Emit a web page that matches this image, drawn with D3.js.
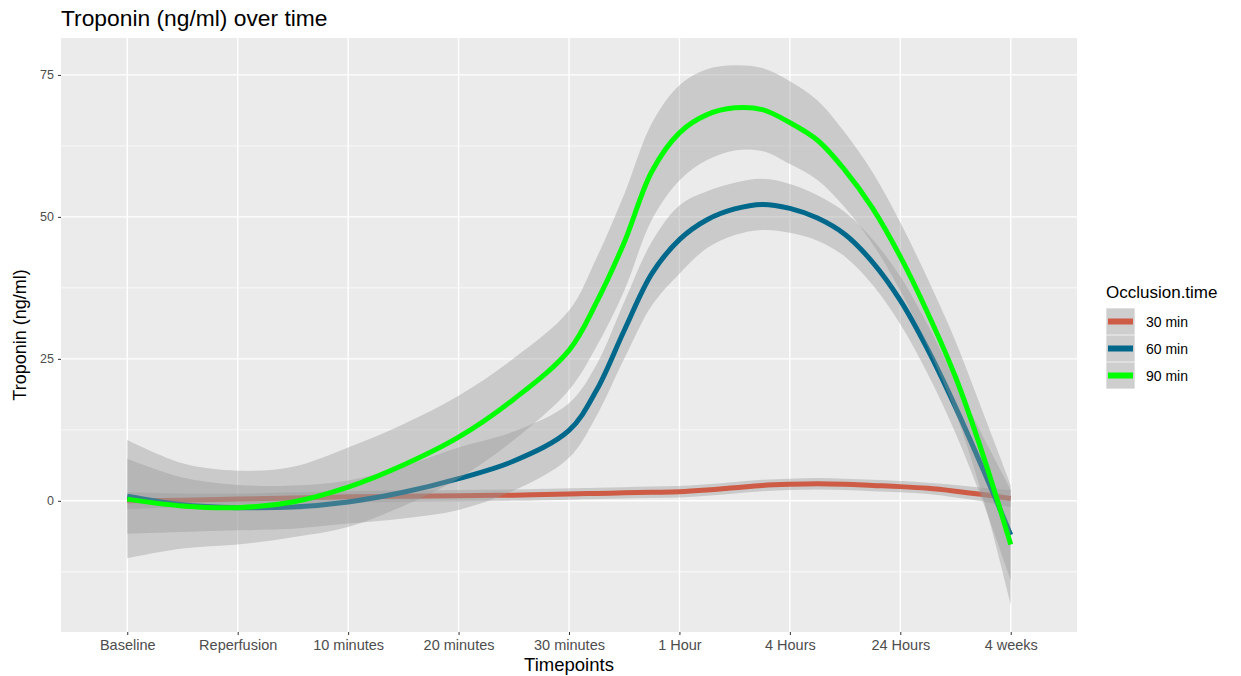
<!DOCTYPE html>
<html>
<head>
<meta charset="utf-8">
<script src="https://cdn.jsdelivr.net/npm/d3@7"></script>
<style>
  body { margin: 0; background: #fff; }
  svg { display: block; font-family: "Liberation Sans", Arial, sans-serif; }
</style>
</head>
<body>
<div id="chart"></div>
<script>
// x axis categories (discrete timepoints)
var categories = ['Baseline', 'Reperfusion', '10 minutes', '20 minutes', '30 minutes',
  '1 Hour', '4 Hours', '24 Hours', '4 weeks'];

// positions (category index, 1-based) where the smoothed curves were read
var pos = [1, 1.5, 2, 2.5, 3, 3.5, 4, 4.5, 5, 5.25, 5.5, 5.75, 6, 6.25, 6.5, 6.75, 7, 7.25, 7.5, 7.75, 8, 8.25, 8.5, 8.75, 9];

// smoothed fit
var fit30 = [0.0, 0.1, 0.3, 0.5, 0.7, 0.8, 0.9, 1.0, 1.2, 1.3, 1.4, 1.5, 1.6, 1.9, 2.3, 2.7, 2.9, 3.0, 2.9, 2.7, 2.5, 2.2, 1.7, 1.1, 0.4];
var fit60 = [0.8, -0.7, -1.2, -1.1, -0.2, 1.5, 3.9, 7.0, 12.4, 19.5, 30.0, 40.0, 46.0, 49.5, 51.4, 52.2, 51.5, 49.8, 46.9, 42.0, 35.3, 26.6, 16.5, 5.5, -6.0];
var fit90 = [0.3, -0.9, -1.2, -0.2, 2.4, 6.3, 11.2, 17.9, 26.5, 35.0, 45.5, 58.0, 64.8, 68.0, 69.2, 68.9, 66.6, 63.5, 58.2, 51.5, 43.0, 33.0, 21.8, 8.0, -7.7];

// half-width of the confidence band
var se30 = [1.5, 1.2, 1.0, 1.0, 1.0, 1.0, 1.0, 1.0, 1.0, 1.0, 1.0, 1.0, 1.0, 1.0, 1.0, 1.0, 1.0, 1.0, 1.0, 1.0, 1.0, 1.0, 1.1, 1.2, 1.5];
var se60 = [6.6, 4.8, 4.0, 3.8, 3.8, 4.6, 5.5, 5.2, 4.8, 4.5, 5.0, 5.6, 6.0, 5.0, 4.6, 4.5, 4.3, 4.0, 3.9, 4.0, 4.2, 4.3, 4.6, 5.8, 8.0];
var se90 = [10.4, 7.5, 6.5, 6.2, 7.0, 7.2, 7.3, 7.2, 7.0, 7.8, 8.5, 8.5, 8.4, 8.0, 7.5, 7.3, 7.3, 7.0, 6.6, 6.3, 6.0, 6.0, 6.3, 7.5, 10.5];

var groups = ['30 min', '60 min', '90 min'];
var colors = ['#CD5B45', '#00688B', '#00FF00'];
var yTicks = [0, 25, 50, 75];
var yMinor = [-12.5, 12.5, 37.5, 62.5];

var W = 1241, H = 676;
var panel = { left: 61, right: 1077, top: 38, bottom: 632 };

var svg = d3.select('#chart').append('svg').attr('width', W).attr('height', H);

var x = d3.scaleLinear().domain([0.4, categories.length + 0.6]).range([panel.left, panel.right]);
var y = d3.scaleLinear().domain([-23.1, 81.5]).range([panel.bottom, panel.top]);

// panel background
svg.append('rect')
  .attr('x', panel.left).attr('y', panel.top)
  .attr('width', panel.right - panel.left).attr('height', panel.bottom - panel.top)
  .attr('fill', '#EBEBEB');

var grid = svg.append('g');
grid.selectAll('line.minor').data(yMinor).join('line')
  .attr('class', 'minor')
  .attr('x1', panel.left).attr('x2', panel.right)
  .attr('y1', function (d) { return y(d); }).attr('y2', function (d) { return y(d); })
  .attr('stroke', '#fff').attr('stroke-width', 0.7);
grid.selectAll('line.majory').data(yTicks).join('line')
  .attr('class', 'majory')
  .attr('x1', panel.left).attr('x2', panel.right)
  .attr('y1', function (d) { return y(d); }).attr('y2', function (d) { return y(d); })
  .attr('stroke', '#fff').attr('stroke-width', 1.4);
grid.selectAll('line.majorx').data(d3.range(1, categories.length + 1)).join('line')
  .attr('class', 'majorx')
  .attr('y1', panel.top).attr('y2', panel.bottom)
  .attr('x1', function (d) { return x(d); }).attr('x2', function (d) { return x(d); })
  .attr('stroke', '#fff').attr('stroke-width', 1.4);

// ribbons + lines, drawn per group like geom_smooth
var series = [
  { fit: fit30, se: se30 },
  { fit: fit60, se: se60 },
  { fit: fit90, se: se90 }
];

var area = d3.area()
  .curve(d3.curveCatmullRom)
  .x(function (d) { return x(d.p); })
  .y0(function (d) { return y(d.v - d.s); })
  .y1(function (d) { return y(d.v + d.s); });
var line = d3.line()
  .curve(d3.curveCatmullRom)
  .x(function (d) { return x(d.p); })
  .y(function (d) { return y(d.v); });

var marks = svg.append('g');
series.forEach(function (s, i) {
  var pts = pos.map(function (p, j) { return { p: p, v: s.fit[j], s: s.se[j] }; });
  marks.append('path').datum(pts)
    .attr('d', area)
    .attr('fill', '#999999').attr('fill-opacity', 0.4);
  marks.append('path').datum(pts)
    .attr('d', line)
    .attr('fill', 'none')
    .attr('stroke', colors[i]).attr('stroke-width', 5)
    .attr('stroke-linejoin', 'round');
});

// axes
var yAxis = svg.append('g')
  .attr('transform', 'translate(' + panel.left + ',0)')
  .call(d3.axisLeft(y).tickValues(yTicks).tickSize(3).tickPadding(4));
var xAxis = svg.append('g')
  .attr('transform', 'translate(0,' + panel.bottom + ')')
  .call(d3.axisBottom(x).tickValues(d3.range(1, categories.length + 1))
    .tickFormat(function (d) { return categories[d - 1]; }).tickSize(3).tickPadding(5));
[yAxis, xAxis].forEach(function (a) {
  a.select('.domain').remove();
  a.selectAll('.tick line').attr('stroke', '#333333');
  a.selectAll('.tick text').attr('fill', '#4D4D4D')
    .style('font-family', '"Liberation Sans", Arial, sans-serif');
});
yAxis.selectAll('.tick text').style('font-size', '12.5px');
xAxis.selectAll('.tick text').style('font-size', '14.5px');

// titles
svg.append('text')
  .attr('x', panel.left).attr('y', 26)
  .style('font-size', '22.8px').attr('fill', '#000')
  .text('Troponin (ng/ml) over time');
svg.append('text')
  .attr('x', (panel.left + panel.right) / 2).attr('y', 671)
  .attr('text-anchor', 'middle')
  .style('font-size', '18.5px').attr('fill', '#000')
  .text('Timepoints');
svg.append('text')
  .attr('transform', 'translate(26,' + ((panel.top + panel.bottom) / 2) + ') rotate(-90)')
  .attr('text-anchor', 'middle')
  .style('font-size', '18px').attr('fill', '#000')
  .text('Troponin (ng/ml)');

// legend
var legend = svg.append('g').attr('transform', 'translate(1106,0)');
legend.append('text')
  .attr('x', 0).attr('y', 298)
  .style('font-size', '17px').attr('fill', '#000')
  .text('Occlusion.time');
var keyH = 27;
groups.forEach(function (g, i) {
  var top = 308 + i * keyH;
  legend.append('rect')
    .attr('x', 0).attr('y', top).attr('width', 29).attr('height', keyH)
    .attr('fill', '#F2F2F2');
  legend.append('rect')
    .attr('x', 0.5).attr('y', top + 0.5).attr('width', 28).attr('height', keyH - 1)
    .attr('fill', '#999999').attr('fill-opacity', 0.4);
  legend.append('line')
    .attr('x1', 2).attr('x2', 27)
    .attr('y1', top + keyH / 2).attr('y2', top + keyH / 2)
    .attr('stroke', colors[i]).attr('stroke-width', 6);
  legend.append('text')
    .attr('x', 40).attr('y', top + keyH / 2 + 5)
    .style('font-size', '14px').attr('fill', '#000')
    .text(g);
});
</script>
</body>
</html>
